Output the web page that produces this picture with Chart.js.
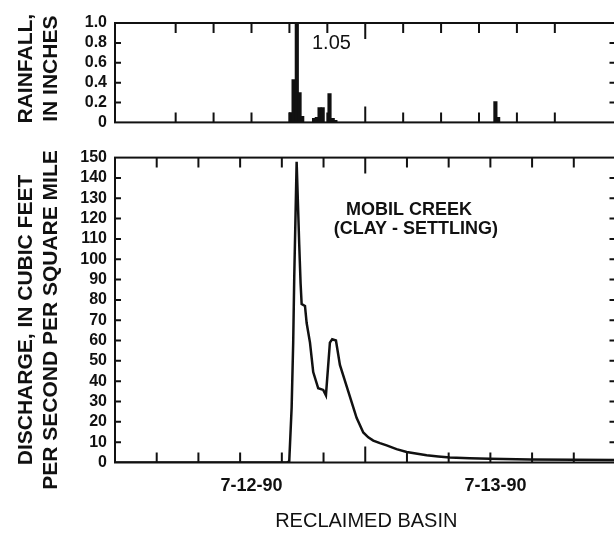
<!DOCTYPE html>
<html>
<head>
<meta charset="utf-8">
<script src="https://cdn.jsdelivr.net/npm/chart.js@4.4.1/dist/chart.umd.min.js"></script>
<style>
  html, body { margin: 0; padding: 0; background: #fff; overflow: hidden; width: 614px; height: 538px; }
  canvas { position: absolute; left: 0; }
  #rainChart { top: 0; }
  #flowChart { top: 140px; }
</style>
</head>
<body>
<canvas id="rainChart" width="640" height="140"></canvas>
<canvas id="flowChart" width="640" height="398"></canvas>
<script>
// hours after midnight 7-12-90
const rainHours = [16.15, 16.44, 16.78, 17.07, 17.35, 18.60, 18.89, 19.18, 19.51, 20.23, 20.57, 20.85, 37.73, 38.02];
const rainInches = [0.10, 0.43, 1.05, 0.30, 0.06, 0.04, 0.05, 0.15, 0.15, 0.29, 0.04, 0.02, 0.21, 0.05];

const flowHours = [0, 16.5, 16.71, 16.94, 17.09, 17.19, 17.42, 17.67, 17.8, 17.9, 18.22, 18.38, 18.7, 19.01, 19.49, 19.97, 20.23, 20.61, 20.83, 21.19, 21.57, 22.0, 22.37, 22.8, 23.17, 23.81, 24.29, 24.77, 25.41, 26.05, 27.0, 27.97, 29.0, 29.89, 31.0, 32.12, 34.0, 35.95, 39.79, 44.0, 48];
const flowCfsm = [0, 0, 0.5, 27, 59, 91, 148, 107, 88, 78, 77, 68.6, 59, 44.5, 36.5, 35.7, 33, 59, 60.6, 60, 48, 41, 35, 28, 22, 14.8, 12.4, 10.8, 9.5, 8.4, 6.6, 5.2, 4.3, 3.6, 3.0, 2.5, 2.1, 1.8, 1.5, 1.3, 1.2];

const xTickHours = [0, 4, 8, 12, 16, 20, 24, 28, 32, 36, 40, 44, 48];
const dayLabels = ["7-12-90", "7-13-90"];
const dayLabelHours = [13.1, 36.5];

const ink = "#111";
const fam = "'Liberation Sans', Arial, sans-serif";
Chart.defaults.font.family = fam;
Chart.defaults.color = ink;

// box around the plot + inward tick marks
const frameTicks = {
  id: "frameTicks",
  afterDatasetsDraw(chart) {
    const { ctx, chartArea: a, scales } = chart;
    const x = scales.x, y = scales.y;
    ctx.save();
    ctx.strokeStyle = ink;
    ctx.lineWidth = 2;
    ctx.strokeRect(a.left, a.top, a.right - a.left, a.bottom - a.top);
    ctx.beginPath();
    xTickHours.forEach(h => {
      if (h <= x.min || h >= x.max) return;
      const px = x.getPixelForValue(h);
      const len = h % 24 === 0 ? 16 : 10;
      ctx.moveTo(px, a.top); ctx.lineTo(px, a.top + len);
      ctx.moveTo(px, a.bottom); ctx.lineTo(px, a.bottom - len);
    });
    y.ticks.forEach(t => {
      if (t.value <= y.min || t.value >= y.max) return;
      const py = y.getPixelForValue(t.value);
      ctx.moveTo(a.left, py); ctx.lineTo(a.left + 6, py);
      ctx.moveTo(a.right, py); ctx.lineTo(a.right - 6, py);
    });
    ctx.stroke();
    ctx.restore();
  }
};

function vTitle(ctx, lines, xs, yc, size) {
  ctx.save();
  ctx.font = "bold " + size + "px " + fam;
  ctx.fillStyle = ink;
  ctx.textAlign = "center";
  ctx.textBaseline = "middle";
  lines.forEach((s, i) => {
    ctx.save();
    ctx.translate(xs[i], yc);
    ctx.rotate(-Math.PI / 2);
    ctx.fillText(s, 0, 0);
    ctx.restore();
  });
  ctx.restore();
}

const rainText = {
  id: "rainText",
  afterDraw(chart) {
    const { ctx, chartArea: a, scales: { x, y } } = chart;
    vTitle(ctx, ["RAINFALL,", "IN INCHES"], [26, 51], (a.top + a.bottom) / 2 - 4, 21);
    ctx.save();
    ctx.font = "20px " + fam;
    ctx.fillStyle = ink;
    ctx.textBaseline = "middle";
    ctx.fillText("1.05", x.getPixelForValue(18.38), y.getPixelForValue(0.79));
    ctx.restore();
  }
};

const flowText = {
  id: "flowText",
  afterDraw(chart) {
    const { ctx, chartArea: a, scales: { x, y } } = chart;
    vTitle(ctx, ["DISCHARGE, IN CUBIC FEET", "PER SECOND PER SQUARE MILE"], [26, 51], 180, 21);
    ctx.save();
    ctx.fillStyle = ink;
    ctx.textAlign = "center";
    ctx.textBaseline = "middle";
    ctx.font = "bold 18px " + fam;
    ctx.fillText("MOBIL CREEK", x.getPixelForValue(28.19), y.getPixelForValue(124));
    ctx.fillText("(CLAY - SETTLING)", x.getPixelForValue(28.86), y.getPixelForValue(114.8));
    dayLabels.forEach((s, i) => {
      ctx.fillText(s, x.getPixelForValue(dayLabelHours[i]), a.bottom + 24);
    });
    ctx.font = "20px " + fam;
    ctx.fillText("RECLAIMED BASIN", x.getPixelForValue(24.1), a.bottom + 58.5);
    ctx.restore();
  }
};

const yFit = scale => { scale.width = 115; };
const tickFont = { family: fam, size: 16, weight: "bold" };

new Chart(document.getElementById("rainChart"), {
  type: "bar",
  data: {
    datasets: [{
      label: "Rainfall",
      data: rainHours.map((h, i) => ({ x: h, y: rainInches[i] })),
      backgroundColor: ink,
      barThickness: 3.5
    }]
  },
  options: {
    responsive: false,
    animation: false,
    layout: { padding: { left: 0, right: 24.5, top: 23, bottom: 15 } },
    plugins: { legend: { display: false }, tooltip: { enabled: false } },
    scales: {
      x: { type: "linear", min: 0, max: 48, display: false },
      y: {
        min: 0, max: 1,
        afterFit: yFit,
        grid: { display: false, drawTicks: false },
        border: { display: false },
        ticks: {
          stepSize: 0.2, padding: 8, font: tickFont, autoSkip: false,
          callback: v => v === 0 ? "0" : v.toFixed(1)
        }
      }
    }
  },
  plugins: [frameTicks, rainText]
});

new Chart(document.getElementById("flowChart"), {
  type: "line",
  data: {
    datasets: [{
      label: "Discharge",
      data: flowHours.map((h, i) => ({ x: h, y: flowCfsm[i] })),
      borderColor: ink,
      borderWidth: 2.5,
      pointRadius: 0,
      tension: 0
    }]
  },
  options: {
    responsive: false,
    animation: false,
    layout: { padding: { left: 0, right: 24.5, top: 11, bottom: 75.5 } },
    plugins: { legend: { display: false }, tooltip: { enabled: false } },
    scales: {
      x: { type: "linear", min: 0, max: 48, display: false },
      y: {
        min: 0, max: 150,
        afterFit: yFit,
        grid: { display: false, drawTicks: false },
        border: { display: false },
        ticks: { stepSize: 10, padding: 8, font: tickFont, autoSkip: false }
      }
    }
  },
  plugins: [frameTicks, flowText]
});
</script>
</body>
</html>
